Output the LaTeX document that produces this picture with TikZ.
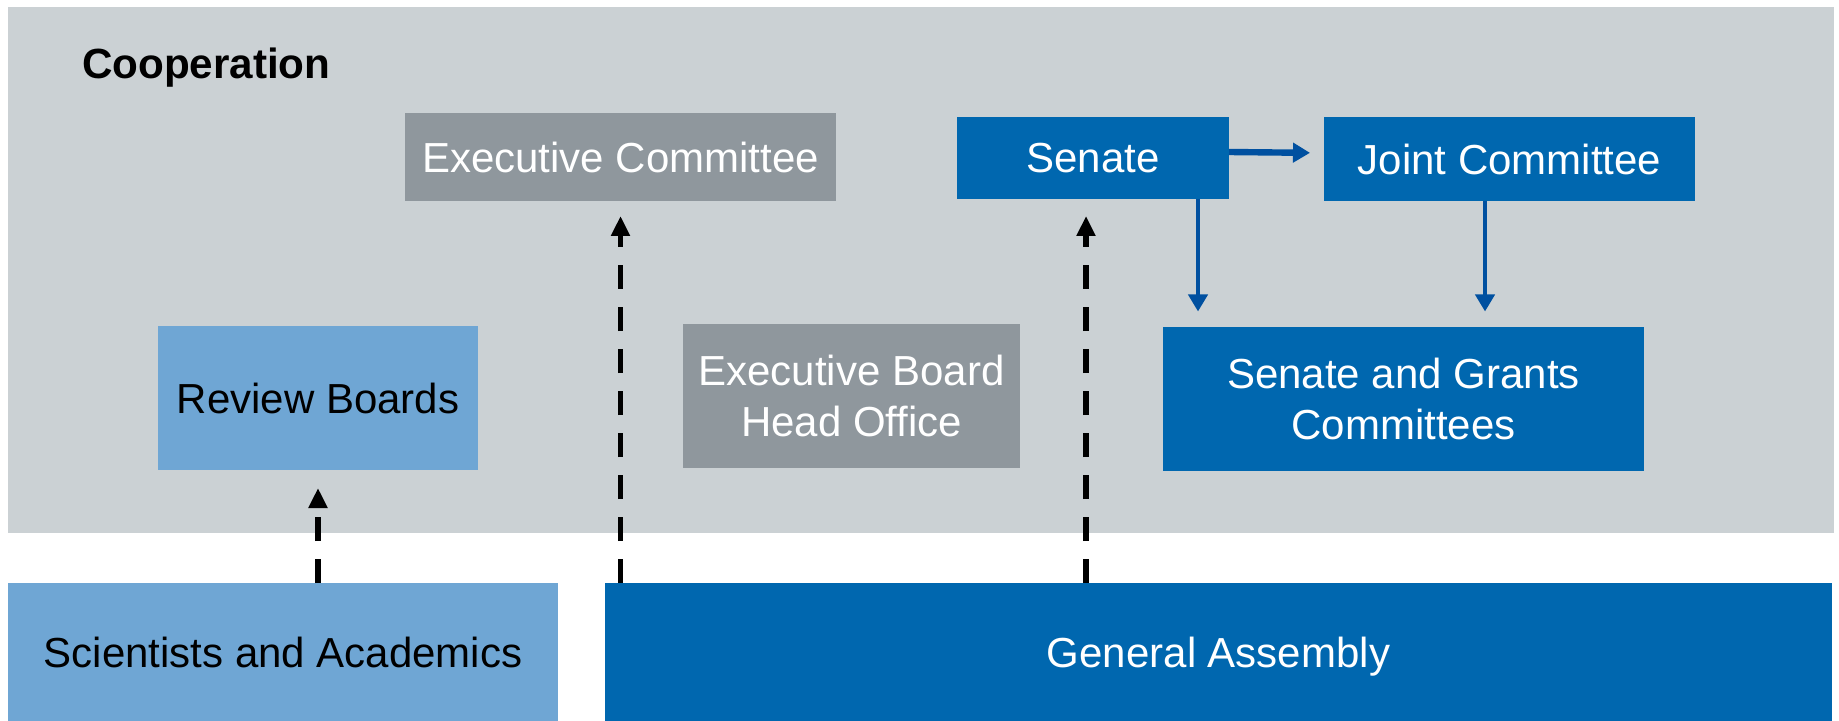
\documentclass[tikz,border=0pt]{standalone}
\usepackage{fontspec}
\setmainfont{Liberation Sans}
\usetikzlibrary{arrows.meta}
\definecolor{bggray}{HTML}{CBD1D4}
\definecolor{boxgray}{HTML}{8F979D}
\definecolor{dblue}{HTML}{0067AF}
\definecolor{lblue}{HTML}{6FA6D4}
\definecolor{ablue}{HTML}{0050A0}
\newcommand\boxfont{\fontsize{21}{25.2}\selectfont}
\begin{document}
\begin{tikzpicture}[x=0.5pt,y=-0.5pt,
  every node/.style={inner sep=0pt, outer sep=0pt},
  boxbase/.style={rectangle, align=center, font=\boxfont},
  graybox/.style={boxbase, fill=boxgray, text=white},
  bluebox/.style={boxbase, fill=dblue, text=white},
  lightbox/.style={boxbase, fill=lblue, text=black},
  dasharrow/.style={draw=black, line width=2.6pt, dash pattern=on 12pt off 9pt,
    -{Triangle[length=10pt,width=9pt]}},
  bluearrow/.style={draw=ablue, -{Triangle[length=8.5pt,width=9.5pt]}}
]
\useasboundingbox (0,0) rectangle (1839,721);
\fill[white] (0,0) rectangle (1839,721);

\node[rectangle, fill=bggray, minimum width=913pt, minimum height=263pt] (coop) at (921,270) {};
\node[anchor=base west, font=\bfseries\fontsize{21.1}{25}\selectfont] (cooplbl) at (82,79) {Cooperation};

\node[graybox, minimum width=215.5pt, minimum height=44pt] (ec) at (620.5,157) {Executive Committee};
\node[bluebox, minimum width=136pt, minimum height=41pt] (senate) at (1093,158) {Senate};
\node[bluebox, minimum width=185.5pt, minimum height=42pt] (joint) at (1509.5,159) {Joint Committee};
\node[bluebox, minimum width=240.5pt, minimum height=71.5pt] (sgc) at (1403.5,399) {Senate and Grants\\Committees};
\node[graybox, minimum width=168.5pt, minimum height=72pt] (eb) at (851.5,396) {Executive Board\\Head Office};
\node[lightbox, minimum width=160pt, minimum height=72pt] (rb) at (318,398) {Review Boards};
\node[lightbox, minimum width=275pt, minimum height=69pt] (sci) at (283,652) {Scientists and Academics};
\node[bluebox, minimum width=613.5pt, minimum height=69pt, text depth=0pt] (ga) at (1218.5,652) {General Assembly};

% blue arrows
\draw[bluearrow, line width=3.2pt, shorten >=7pt] ([yshift=3pt]senate.east) -- ([yshift=3pt]joint.west);
\draw[bluearrow, line width=2pt, shorten >=8pt] ([xshift=52.5pt]senate.south) -- ([xshift=52.5pt]senate.south |- sgc.north);
\draw[bluearrow, line width=2pt, shorten >=8pt] ([xshift=-12.25pt]joint.south) -- ([xshift=-12.25pt]joint.south |- sgc.north);

% dashed arrows
\draw[dasharrow, shorten >=9pt] (rb.south |- sci.north) -- (rb.south);
\draw[dasharrow, shorten >=7.5pt] (ec.south |- ga.north) -- (ec.south);
\draw[dasharrow, shorten >=8.5pt] ([xshift=-3.5pt]senate.south |- ga.north) -- ([xshift=-3.5pt]senate.south);
\end{tikzpicture}
\end{document}
